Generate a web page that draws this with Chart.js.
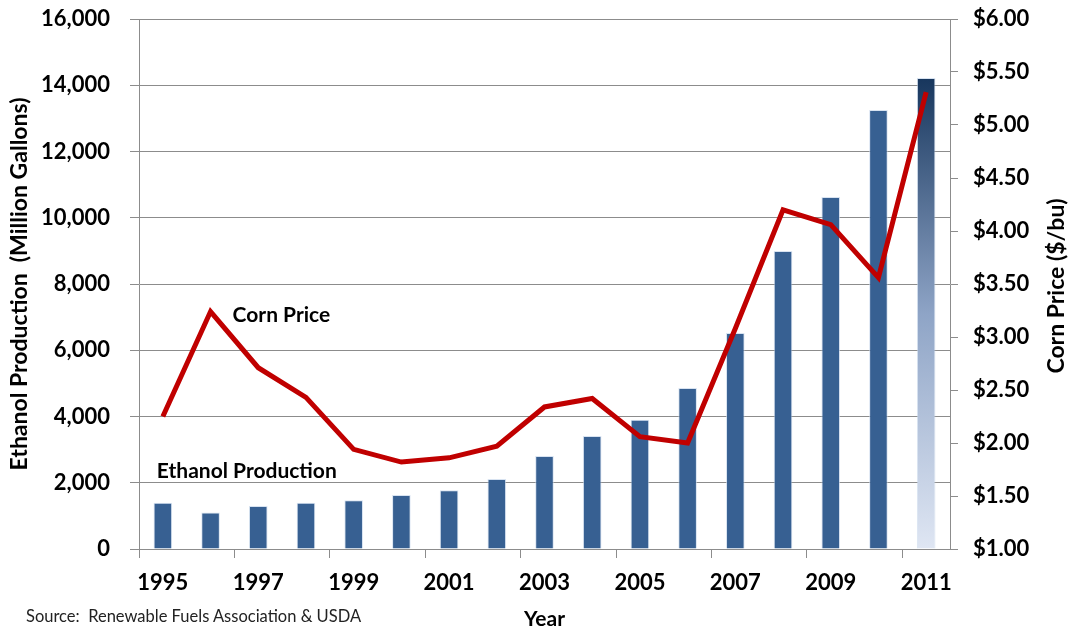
<!DOCTYPE html>
<html>
<head>
<meta charset="utf-8">
<script src="https://cdn.jsdelivr.net/npm/chart.js@4"></script>
<style>
  html, body { margin: 0; padding: 0; background: #fff; }
  #wrap { position: relative; width: 1072px; height: 633px; }
  #source { position: absolute; left: 26px; top: 606px; font: 16.5px Lato, sans-serif; color: #222; }
</style>
</head>
<body>
<div id="wrap">
  <canvas id="chart"></canvas>
  <div id="source">Source:&nbsp; Renewable Fuels Association &amp; USDA</div>
</div>
<script>
// data
const years = ['1995', '1996', '1997', '1998', '1999', '2000', '2001', '2002', '2003',
               '2004', '2005', '2006', '2007', '2008', '2009', '2010', '2011'];
const ethanolProduction = [1400, 1100, 1300, 1400, 1470, 1630, 1770, 2110, 2810,
                           3410, 3900, 4860, 6520, 9000, 10630, 13250, 14220];
const cornPrice = [2.25, 3.24, 2.71, 2.43, 1.94, 1.82, 1.86, 1.97, 2.34,
                   2.42, 2.06, 2.00, 3.08, 4.20, 4.06, 3.56, 5.31];

const font = 'Lato, "Open Sans", sans-serif';
const gridGrey = '#8c8c8c';

// last bar gets a dark-to-light gradient
function barColor(ctx) {
    if (ctx.dataIndex !== years.length - 1) return '#376092';
    const chart = ctx.chart;
    const area = chart.chartArea;
    if (!area) return '#376092';
    const y = chart.scales.y;
    const top = y.getPixelForValue(ethanolProduction[ctx.dataIndex]);
    const g = chart.ctx.createLinearGradient(0, top, 0, area.bottom);
    g.addColorStop(0, '#17365d');
    g.addColorStop(0.5, '#8ea4c6');
    g.addColorStop(1, '#dfe6f3');
    return g;
}

// "Corn Price" / "Ethanol Production" labels inside the plot, plus the right axis title
const notes = {
    id: 'notes',
    afterDatasetsDraw(chart) {
        const c = chart.ctx;
        const x = chart.scales.x;
        const y = chart.scales.y;
        const y2 = chart.scales.y2;
        c.save();
        c.fillStyle = '#000';
        c.textBaseline = 'middle';
        c.textAlign = 'left';
        c.font = 'bold 21px ' + font;
        c.fillText('Corn Price', x.getPixelForValue(1) + 22, y.getPixelForValue(7050));
        c.fillText('Ethanol Production', x.getPixelForValue(0) - 6, y.getPixelForValue(2350));
        // right title reads bottom to top
        c.translate(y2.right - 15, (y2.top + y2.bottom) / 2 + 2);
        c.rotate(-Math.PI / 2);
        c.textAlign = 'center';
        c.font = 'bold 23px ' + font;
        c.fillText('Corn Price ($/bu)', 0, 0);
        c.restore();
    }
};

// fixed axis sizes so the plot area sits where it does in the original
function fixVertical(width) {
    return (s) => {
        s.width = width;
        s.paddingTop = 0;
        s.paddingBottom = 0;
    };
}

new Chart(document.getElementById('chart'), {
    data: {
        labels: years,
        datasets: [
            {
                type: 'line',
                label: 'Corn Price',
                data: cornPrice,
                yAxisID: 'y2',
                borderColor: '#c00000',
                borderWidth: 5,
                pointRadius: 0,
                tension: 0,
                order: 0
            },
            {
                type: 'bar',
                label: 'Ethanol Production',
                data: ethanolProduction,
                yAxisID: 'y',
                backgroundColor: barColor,
                borderColor: 'rgba(200,215,235,0.7)',
                borderWidth: 1,
                barPercentage: 0.39,
                categoryPercentage: 1,
                order: 1
            }
        ]
    },
    options: {
        responsive: true,
        maintainAspectRatio: false,
        animation: false,
        layout: { padding: { top: 19, left: 0, right: 0, bottom: 0 } },
        plugins: {
            legend: { display: false },
            tooltip: { enabled: false }
        },
        scales: {
            x: {
                offset: true,
                grid: {
                    offset: true,
                    drawOnChartArea: false,
                    tickLength: 9,
                    tickColor: (ctx) => ctx.index % 2 === 0 ? gridGrey : 'rgba(0,0,0,0)'
                },
                border: { color: gridGrey },
                ticks: {
                    autoSkip: false,
                    maxRotation: 0,
                    padding: 12,
                    color: '#000',
                    font: { family: font, size: 22, weight: 'bold' },
                    callback: function (v, i) { return i % 2 === 0 ? this.getLabelForValue(v) : ''; }
                },
                title: {
                    display: true,
                    text: 'Year',
                    color: '#000',
                    font: { family: font, size: 21, weight: 'bold' },
                    padding: { top: 0, bottom: 1 }
                },
                afterFit: (s) => { s.height = 633 - 549; }
            },
            y: {
                position: 'left',
                min: 0,
                max: 16000,
                grid: { color: gridGrey, tickLength: 9 },
                border: { color: gridGrey },
                ticks: {
                    stepSize: 2000,
                    padding: 20,
                    color: '#000',
                    font: { family: font, size: 22, weight: 'bold' },
                    callback: (v) => v.toLocaleString('en-US')
                },
                title: {
                    display: true,
                    text: 'Ethanol Production  (Million Gallons)',
                    color: '#000',
                    font: { family: font, size: 23, weight: 'bold' },
                    padding: { top: 6, bottom: 0 }
                },
                afterFit: fixVertical(139)
            },
            y2: {
                position: 'right',
                min: 1,
                max: 6,
                grid: { drawOnChartArea: false, color: gridGrey, tickLength: 8 },
                border: { color: gridGrey },
                ticks: {
                    stepSize: 0.5,
                    padding: 15,
                    color: '#000',
                    font: { family: font, size: 22, weight: 'bold' },
                    callback: (v) => '$' + v.toFixed(2)
                },
                afterFit: fixVertical(1072 - 950)
            }
        }
    },
    plugins: [notes]
});
</script>
</body>
</html>
